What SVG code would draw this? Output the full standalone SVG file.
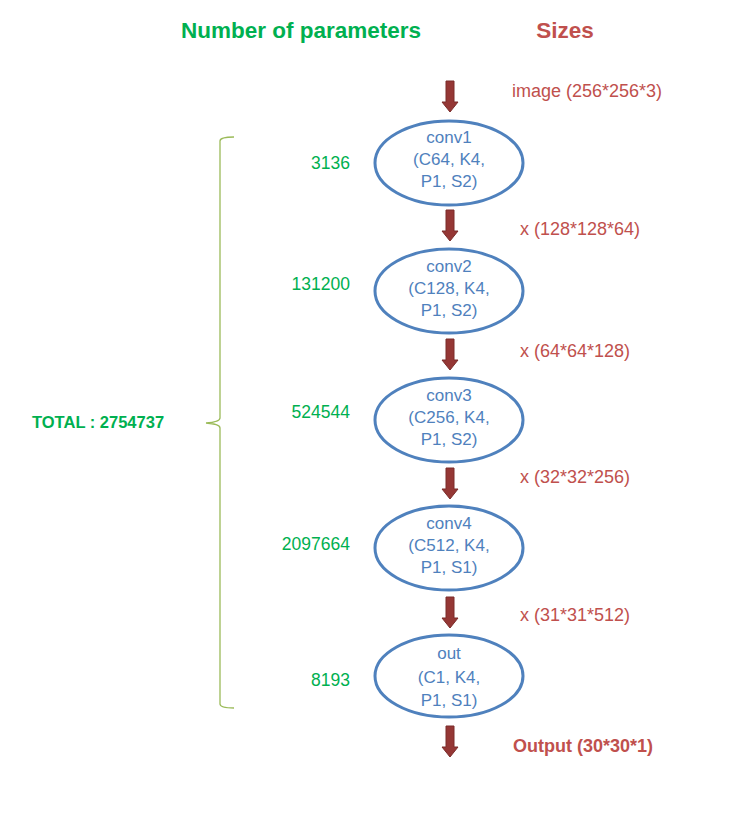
<svg xmlns="http://www.w3.org/2000/svg" width="746" height="813" viewBox="0 0 746 813">
<style>
text{font-family:"Liberation Sans",Arial,sans-serif}
.h{font-size:22.5px;font-weight:bold}
.g{fill:#00B050}
.r{fill:#C0504D}
.num{font-size:17.5px;text-anchor:end}
.sz{font-size:18px}
.nd{fill:none;stroke:#4F81BD;stroke-width:3}
.nt{font-size:17px;fill:#4F81BD;text-anchor:middle}
.ar{fill:#953735;stroke:#7a2c2a;stroke-width:1}
</style>
<defs>
<path id="arw" d="M-4,0 H4 V21 H8 L0,31 L-8,21 H-4 Z"/>
</defs>
<rect width="746" height="813" fill="#fff"/>
<text class="h g" x="301" y="38" text-anchor="middle">Number of parameters</text>
<text class="h r" x="565" y="38" text-anchor="middle">Sizes</text>

<g id="connectors">
<use href="#arw" class="ar" x="450" y="81"/>
<use href="#arw" class="ar" x="450" y="210"/>
<use href="#arw" class="ar" x="450" y="339"/>
<use href="#arw" class="ar" x="450" y="468"/>
<use href="#arw" class="ar" x="450" y="597"/>
<use href="#arw" class="ar" x="450" y="726"/>
</g>

<g id="sizes">
<text class="sz r" x="512" y="97">image (256*256*3)</text>
<text class="sz r" x="520" y="235">x (128*128*64)</text>
<text class="sz r" x="520" y="357">x (64*64*128)</text>
<text class="sz r" x="520" y="483">x (32*32*256)</text>
<text class="sz r" x="520" y="621">x (31*31*512)</text>
<text class="sz r" x="513" y="752" font-weight="bold">Output (30*30*1)</text>
</g>

<g id="conv1">
<ellipse class="nd" cx="449" cy="163" rx="74" ry="42"/>
<text class="nt" x="449" y="143">conv1</text>
<text class="nt" x="449" y="165">(C64, K4,</text>
<text class="nt" x="449" y="187">P1, S2)</text>
<text class="num g" x="350" y="169">3136</text>
</g>
<g id="conv2">
<ellipse class="nd" cx="449" cy="291" rx="74" ry="42"/>
<text class="nt" x="449" y="272">conv2</text>
<text class="nt" x="449" y="294">(C128, K4,</text>
<text class="nt" x="449" y="316">P1, S2)</text>
<text class="num g" x="350" y="290">131200</text>
</g>
<g id="conv3">
<ellipse class="nd" cx="449" cy="420" rx="74" ry="42"/>
<text class="nt" x="449" y="401">conv3</text>
<text class="nt" x="449" y="423">(C256, K4,</text>
<text class="nt" x="449" y="445">P1, S2)</text>
<text class="num g" x="350" y="418">524544</text>
</g>
<g id="conv4">
<ellipse class="nd" cx="449" cy="548" rx="74" ry="42"/>
<text class="nt" x="449" y="529">conv4</text>
<text class="nt" x="449" y="551">(C512, K4,</text>
<text class="nt" x="449" y="573">P1, S1)</text>
<text class="num g" x="350" y="550">2097664</text>
</g>
<g id="out">
<ellipse class="nd" cx="449" cy="676" rx="74" ry="41"/>
<text class="nt" x="449" y="659">out</text>
<text class="nt" x="449" y="683">(C1, K4,</text>
<text class="nt" x="449" y="706">P1, S1)</text>
<text class="num g" x="350" y="686">8193</text>
</g>

<g id="total">
<path d="M234,137 Q220,137 220,141 V418 Q220,422 206,423 Q220,424 220,428 V704 Q220,708 234,708" fill="none" stroke="#9BBB59" stroke-width="1.3"/>
<text x="32" y="428" font-size="16.5px" font-weight="bold" class="g">TOTAL : 2754737</text>
</g>
</svg>
